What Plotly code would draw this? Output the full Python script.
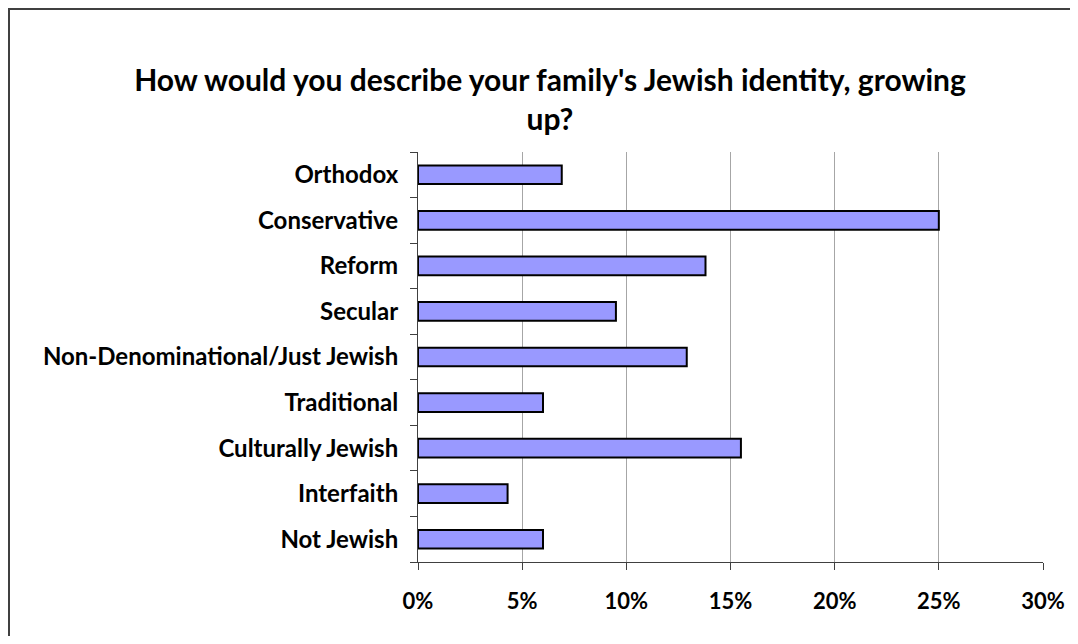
import plotly.graph_objects as go

categories = ["Orthodox", "Conservative", "Reform", "Secular",
              "Non-Denominational/Just Jewish", "Traditional",
              "Culturally Jewish", "Interfaith", "Not Jewish"]
values = [0.069, 0.250, 0.138, 0.095, 0.129, 0.060, 0.155, 0.043, 0.060]
x_ticks = [0, 0.05, 0.10, 0.15, 0.20, 0.25, 0.30]
x_tick_labels = ["0%", "5%", "10%", "15%", "20%", "25%", "30%"]
title_text = "How would you describe your family's Jewish identity, growing<br>up?"

FONT = "Lato"
# page body has an 8px margin; figure drawn from (8, 8)
W, H = 1062, 628
L, T = 410, 144
PW, PH = 625, 410
R = W - L - PW
B = H - T - PH

fig = go.Figure(go.Bar(
    x=values, y=categories, orientation="h",
    marker=dict(color="#9999FF", line=dict(color="black", width=2)),
    width=0.41,
))

fig.update_layout(
    width=W, height=H,
    margin=dict(l=L, r=R, t=T, b=B, autoexpand=False),
    paper_bgcolor="white", plot_bgcolor="white",
    showlegend=False,
    title=dict(text="<b>" + title_text + "</b>", x=542 / W, xanchor="center",
               y=1 - 83 / H, yanchor="top",
               font=dict(family=FONT, size=30, color="black")),
    font=dict(family=FONT, color="black"),
)

fig.update_xaxes(
    range=[0, 0.30], tickvals=x_ticks, ticktext=["<b>%s</b>" % t for t in x_tick_labels],
    showgrid=True, gridcolor="#A6A6A6", gridwidth=1,
    showline=True, linecolor="#404040", linewidth=1,
    ticks="outside", ticklen=7, tickcolor="#404040",
    tickfont=dict(family=FONT, size=22, color="black"),
    zeroline=False, ticklabelstandoff=13,
)
fig.update_yaxes(
    categoryorder="array", categoryarray=categories, autorange="reversed",
    tickvals=categories, ticktext=["<b>%s</b>" % c for c in categories],
    showline=True, linecolor="#404040", linewidth=1,
    ticks="outside", ticklen=7, tickcolor="#404040", tickson="boundaries",
    tickfont=dict(family=FONT, size=24, color="black"),
    showgrid=False, ticklabelstandoff=14,
)

# outer chart border (left and top edges visible)
fig.add_shape(type="rect", xref="paper", yref="paper",
              x0=(1 - L) / PW, x1=(W + 10 - L) / PW,
              y0=-(B + 10) / PH, y1=1 + (T - 1) / PH,
              line=dict(color="#404040", width=2), layer="below")

fig.write_html("out.html")
